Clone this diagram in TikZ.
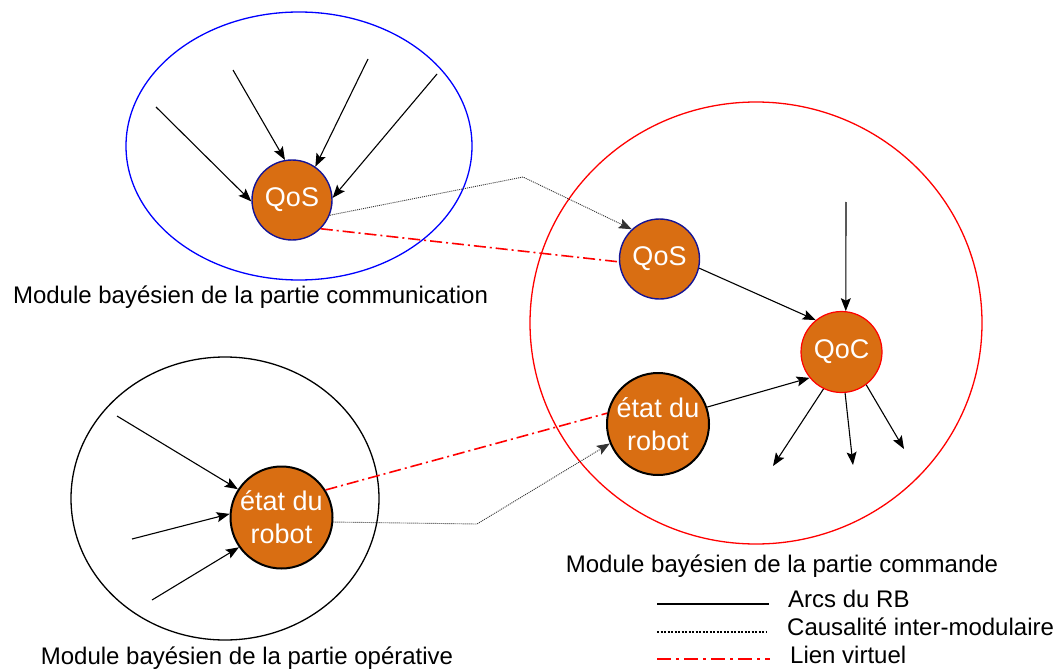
\documentclass[tikz,border=0pt]{standalone}
\usepackage{fontspec}
\setmainfont{Liberation Sans}
\usepackage{xcolor}
\usepackage{tikz}
\usetikzlibrary{positioning, shapes.geometric, arrows.meta}
\definecolor{varfill}{RGB}{217,110,18}
\definecolor{varnavy}{RGB}{20,20,150}
\newcommand{\modfont}{\fontsize{24}{29}\selectfont}
\newcommand{\varfont}{\fontsize{27}{33}\selectfont}
\tikzset{
  module/.style={ellipse, draw=#1, line width=1.3pt, inner sep=0pt},
  var/.style={circle, draw=#1, line width=1.4pt, fill=varfill, text=white,
              font=\varfont, align=center, inner sep=0pt, minimum size=80pt},
  bigvar/.style={var=black, line width=2pt, minimum size=102pt},
  arc/.style={-{Stealth[length=13pt, width=10pt, inset=2.5pt]}, line width=1.1pt},
  caus/.style={-{Stealth[length=13pt, width=10pt, inset=2.5pt]}, line width=0.9pt,
               dash pattern=on 1pt off 1pt, black!80},
  virt/.style={red, line width=1.6pt, dash pattern=on 12pt off 4pt on 2pt off 4pt},
  lbl/.style={font=\modfont, anchor=base, inner sep=0pt},
  leg/.style={font=\modfont, anchor=base west, inner sep=0pt}
}
\begin{document}
\begin{tikzpicture}[x=1pt, y=-1pt]
  \useasboundingbox (0,0) rectangle (1059,671);
  % modules
  \node[module=blue, minimum width=346pt, minimum height=268pt] (modCom) at (299,146) {};
  \node[module=black, minimum width=308pt, minimum height=283pt] (modOp) at (225,498.5) {};
  \node[module=red, minimum width=452pt, minimum height=442pt] (modCmd) at (756,323) {};
  \node[lbl] (lblCom) at (250.5,303) {Module bayésien de la partie communication};
  \node[lbl] (lblOp) at (247,664) {Module bayésien de la partie opérative};
  \node[lbl] (lblCmd) at (782,572) {Module bayésien de la partie commande};
  % variables
  \node[var=varnavy] (comQoS) at (292,200) {QoS};
  \node[var=varnavy] (cmdQoS) at (659.5,259) {QoS};
  \node[var=red, line width=1.2pt, minimum size=81pt] (QoC) at (841.5,352) {QoC};
  \node[bigvar] (cmdEtat) at (658,424) {état du\\robot};
  \node[bigvar] (opEtat) at (281.5,517.5) {état du\\robot};
  % free ends
  \coordinate (com1) at (156,107);
  \coordinate (com2) at (233,70);
  \coordinate (com3) at (368,59);
  \coordinate (com4) at (437,74);
  \coordinate (op1) at (117,416);
  \coordinate (op2) at (132,539);
  \coordinate (op3) at (152,600);
  \coordinate (qocIn) at (846,202);
  \coordinate (out1) at (773,466);
  \coordinate (out2) at (853,465);
  \coordinate (out3) at (904,449);
  \coordinate (bendTop) at (523,177);
  \coordinate (bendBot) at (477,524);
  % arcs du RB
  \draw[arc] (com1) -- (comQoS.182);
  \draw[arc] (com2) -- (comQoS.100);
  \draw[arc] (com3) -- (comQoS.55);
  \draw[arc] (com4) -- (comQoS.3);
  \draw[arc] (op1) -- (opEtat.147);
  \draw[arc] (op2) -- (opEtat.176);
  \draw[arc] (op3) -- (opEtat.215);
  \draw[arc] (qocIn) -- (QoC.84);
  \draw[arc] (cmdQoS.-13) -- (QoC.129);
  \draw[arc] (cmdEtat.19) -- (QoC.219);
  \draw[arc] (QoC.244) -- (out1);
  \draw[arc] (QoC.275) -- (out2);
  \draw[arc] (QoC.307) -- (out3);
  % causalite inter-modulaire
  \draw[caus] (comQoS.-22) -- (bendTop) -- (cmdQoS.133);
  \draw[caus] (opEtat.-5) -- (bendBot) -- (cmdEtat.202);
  % liens virtuels
  \draw[virt] (comQoS.-45) -- (cmdQoS.184);
  \draw[virt] (opEtat.32) -- (cmdEtat.168);
  % legend
  \coordinate (legA1) at (657,604);
  \coordinate (legA2) at (769,604);
  \coordinate (legB1) at (657,632);
  \coordinate (legB2) at (766,632);
  \coordinate (legC1) at (657,659);
  \coordinate (legC2) at (770,659);
  \draw[line width=2.5pt] (legA1) -- (legA2);
  \draw[line width=2.2pt, dash pattern=on 2pt off 1.5pt] (legB1) -- (legB2);
  \draw[red, line width=2.2pt, dash pattern=on 14pt off 5pt on 3pt off 5pt] (legC1) -- (legC2);
  \node[leg] (legA) at (788,607) {Arcs du RB};
  \node[leg] (legB) at (787,635) {Causalité inter-modulaire};
  \node[leg] (legC) at (790,663) {Lien virtuel};
\end{tikzpicture}
\end{document}
